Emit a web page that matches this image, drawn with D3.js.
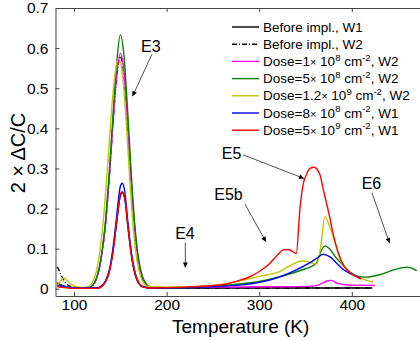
<!DOCTYPE html>
<html>
<head>
<meta charset="utf-8">
<style>
  body { margin: 0; background: #fff; }
  svg { font-family: "Liberation Sans", Arial, sans-serif; }
  .frame { fill: none; stroke: #444; stroke-width: 1; }
  .tick line { stroke: #444; }
  .line { fill: none; stroke-width: 1.4px; stroke-linejoin: round; }
</style>
</head>
<body>
<svg width="420" height="341"></svg>
<script src="https://cdn.jsdelivr.net/npm/d3@7"></script>
<script>
// [temperature K, 2*dC/C]
var beforeW1 = [[82,0.015],[86,0.01],[92,0.005],[100,0.002],[126,0.002],[130,0.006],[134,0.018],[138,0.042],[142,0.092],[146,0.165],[150,0.232],[152,0.24],[155,0.222],[158,0.158],[162,0.082],[166,0.035],[170,0.013],[175,0.004],[182,0.002],[300,0.002],[422,0.002]];
var beforeW2 = [[82,0.055],[84,0.045],[87,0.03],[91,0.015],[96,0.006],[102,0.003],[112,0.002],[118,0.005],[122,0.014],[126,0.038],[130,0.086],[134,0.162],[138,0.275],[142,0.41],[146,0.525],[150,0.58],[154,0.53],[158,0.4],[162,0.255],[166,0.135],[170,0.06],[174,0.025],[178,0.009],[184,0.003],[200,0.002],[422,0.002]];
var dose1e8 = [[82,0.012],[86,0.008],[92,0.004],[100,0.002],[112,0.002],[118,0.005],[122,0.014],[126,0.038],[130,0.085],[134,0.16],[138,0.275],[142,0.41],[146,0.53],[150,0.587],[154,0.54],[158,0.41],[162,0.26],[166,0.14],[170,0.065],[174,0.028],[178,0.01],[184,0.004],[200,0.003],[260,0.004],[320,0.005],[350,0.006],[362,0.008],[368,0.014],[374,0.02],[378,0.021],[384,0.014],[392,0.01],[405,0.009],[425,0.008]];
var dose5e8 = [[82,0.012],[86,0.008],[90,0.005],[100,0.002],[110,0.002],[118,0.005],[122,0.015],[126,0.04],[130,0.09],[134,0.17],[138,0.29],[142,0.43],[146,0.56],[150,0.633],[154,0.58],[158,0.44],[162,0.28],[166,0.15],[170,0.07],[174,0.03],[178,0.012],[182,0.005],[190,0.002],[220,0.003],[250,0.006],[270,0.01],[300,0.018],[330,0.035],[350,0.05],[356,0.055],[362,0.065],[366,0.09],[371,0.107],[376,0.1],[382,0.08],[390,0.06],[398,0.042],[405,0.032],[415,0.029],[430,0.035],[445,0.047],[460,0.054],[466,0.05],[470,0.045]];
var dose12e9 = [[82,0.008],[85,0.018],[88,0.026],[90,0.027],[93,0.02],[97,0.011],[102,0.005],[110,0.003],[116,0.006],[120,0.016],[124,0.042],[128,0.095],[132,0.18],[136,0.3],[140,0.43],[144,0.53],[148,0.575],[152,0.54],[156,0.43],[160,0.28],[164,0.15],[168,0.07],[172,0.03],[176,0.012],[182,0.005],[200,0.004],[250,0.008],[280,0.02],[300,0.031],[322,0.043],[337,0.062],[347,0.07],[355,0.066],[362,0.062],[366,0.1],[371,0.18],[376,0.155],[380,0.13],[387,0.075],[397,0.042],[410,0.026],[423,0.017]];
var dose8e8 = [[82,0.008],[90,0.005],[100,0.002],[125,0.002],[130,0.008],[134,0.02],[138,0.045],[142,0.1],[146,0.18],[150,0.255],[152,0.263],[155,0.24],[158,0.17],[162,0.09],[166,0.04],[170,0.015],[175,0.005],[182,0.002],[220,0.003],[260,0.006],[300,0.016],[320,0.028],[336,0.043],[354,0.064],[362,0.076],[369,0.086],[376,0.08],[387,0.056],[394,0.043],[401,0.035],[410,0.025]];
var dose5e9 = [[82,0.005],[90,0.003],[100,0.001],[125,0.001],[130,0.006],[134,0.018],[138,0.04],[142,0.09],[146,0.165],[150,0.235],[152,0.242],[155,0.225],[158,0.16],[162,0.085],[166,0.038],[170,0.014],[175,0.004],[182,0.002],[220,0.004],[250,0.008],[265,0.012],[280,0.022],[290,0.03],[300,0.043],[310,0.06],[320,0.085],[326,0.097],[332,0.098],[336,0.093],[340,0.088],[344,0.2],[347,0.255],[351,0.285],[355,0.3],[359,0.303],[365,0.288],[369,0.25],[372,0.22],[376,0.18],[380,0.135],[384,0.1],[387,0.08],[392,0.055],[398,0.04],[405,0.03],[410,0.025]];

var seriesData = [beforeW1, beforeW2, dose1e8, dose5e8, dose12e9, dose8e8, dose5e9];
var seriesNames = ["Before impl., W1", "Before impl., W2",
  "Dose=1\u00d7 10^{8} cm^{-2}, W2", "Dose=5\u00d7 10^{8} cm^{-2}, W2",
  "Dose=1.2\u00d7 10^{9} cm^{-2}, W2", "Dose=8\u00d7 10^{8} cm^{-2}, W1",
  "Dose=5\u00d7 10^{9} cm^{-2}, W1"];
var seriesColors = ["#000000", "#000000", "#ff00ff", "#008000", "#c4c400", "#0000ff", "#ff0000"];
var seriesDash = [null, "5,2,1,2", null, null, null, null, null];

var xTicks = [100, 200, 300, 400];
var yTicks = [0, 0.1, 0.2, 0.3, 0.4, 0.5, 0.6, 0.7];

// annotation label [T, v] and arrow from/to in data units
var notes = [
  {text: "E3", at: [183, 0.605], from: [184.2, 0.585], to: [163.2, 0.48]},
  {text: "E4", at: [219.8, 0.139], from: [220.2, 0.115], to: [220.2, 0.053]},
  {text: "E5b", at: [266.8, 0.235], from: [284.6, 0.211], to: [307.3, 0.117]},
  {text: "E5", at: [270.1, 0.337], from: [282.5, 0.334], to: [348.4, 0.275]},
  {text: "E6", at: [421.2, 0.264], from: [421.8, 0.239], to: [440.7, 0.114]}
];

var svg = d3.select("svg");
var pl = 55.5, pt = 8, pb = 296, pr = 425.9;

var x = d3.scaleLinear().domain([80, 480]).range([pl, pr]);
var y = d3.scaleLinear().domain([-0.018, 0.7]).range([pb, pt]);

svg.append("clipPath").attr("id", "clip")
  .append("rect").attr("x", pl).attr("y", pt)
  .attr("width", pr - pl).attr("height", pb - pt);

// ticks inside the box, MATLAB style
svg.append("g").attr("transform", "translate(0," + pb + ")")
  .call(d3.axisBottom(x).tickValues(xTicks).tickSizeInner(-4).tickSizeOuter(0).tickPadding(3))
  .call(function (g) {
    g.select(".domain").remove();
    g.selectAll("text").attr("font-size", 15.5).attr("fill", "#000").attr("font-family", null);
  });
svg.append("g").attr("transform", "translate(0," + pt + ")")
  .call(d3.axisTop(x).tickValues(xTicks).tickSizeInner(-4).tickSizeOuter(0).tickFormat(""))
  .call(function (g) { g.select(".domain").remove(); });
svg.append("g").attr("transform", "translate(" + pl + ",0)")
  .call(d3.axisLeft(y).tickValues(yTicks).tickSizeInner(-4).tickSizeOuter(0).tickPadding(7)
    .tickFormat(function (d) { return d === 0 ? "0" : d3.format(".1f")(d); }))
  .call(function (g) {
    g.select(".domain").remove();
    g.selectAll("text").attr("font-size", 15.5).attr("fill", "#000").attr("font-family", null);
  });

svg.append("path").attr("class", "frame")
  .attr("d", "M" + (pr + 5) + "," + (pt + 0.5) + "H" + (pl + 0.5) + "V" + (pb + 0.5) + "H" + (pr + 5));

var line = d3.line()
  .curve(d3.curveMonotoneX)
  .x(function (d) { return x(d[0]); })
  .y(function (d) { return y(d[1]); });

svg.append("g").attr("clip-path", "url(#clip)")
  .selectAll("path").data(seriesData).enter().append("path")
  .attr("class", "line")
  .attr("d", line)
  .attr("stroke", function (d, i) { return seriesColors[i]; })
  .attr("stroke-dasharray", function (d, i) { return seriesDash[i]; });

// annotations
svg.append("defs").append("marker")
  .attr("id", "arrow").attr("viewBox", "0 0 10 10")
  .attr("refX", 10).attr("refY", 5)
  .attr("markerWidth", 8).attr("markerHeight", 5)
  .attr("markerUnits", "userSpaceOnUse")
  .attr("orient", "auto")
  .append("path").attr("d", "M0,0L10,5L0,10Z").attr("fill", "#000");

var ann = svg.append("g");
ann.selectAll("line").data(notes).enter().append("line")
  .attr("x1", function (d) { return x(d.from[0]); })
  .attr("y1", function (d) { return y(d.from[1]); })
  .attr("x2", function (d) { return x(d.to[0]); })
  .attr("y2", function (d) { return y(d.to[1]); })
  .attr("stroke", "#222").attr("stroke-width", 0.8)
  .attr("marker-end", "url(#arrow)");
ann.selectAll("text").data(notes).enter().append("text")
  .attr("x", function (d) { return x(d.at[0]); })
  .attr("y", function (d) { return y(d.at[1]); })
  .attr("text-anchor", "middle").attr("dy", "0.36em")
  .attr("font-size", 16)
  .text(function (d) { return d.text; });

// legend
var legend = svg.append("g").attr("transform", "translate(232,27)");
var rows = legend.selectAll("g").data(seriesNames).enter().append("g")
  .attr("transform", function (d, i) { return "translate(0," + (i * 17.2) + ")"; });
rows.append("line")
  .attr("x1", 0).attr("x2", 27).attr("y1", 0).attr("y2", 0)
  .attr("stroke", function (d, i) { return seriesColors[i]; })
  .attr("stroke-width", 1.4)
  .attr("stroke-dasharray", function (d, i) { return seriesDash[i]; });
rows.append("text")
  .attr("x", 31).attr("y", 4.6).attr("font-size", 13.5)
  .each(function (d) {
    var t = d3.select(this), shift = 0;
    d.split(/(\^\{[^}]*\})/).forEach(function (part) {
      if (!part) return;
      if (part.charAt(0) === "^") {
        t.append("tspan").attr("dy", -5.5).attr("font-size", 9.5).text(part.slice(2, -1));
        shift = 5.5;
      } else {
        part.split("\u00d7").forEach(function (s, k) {
          if (k > 0) t.append("tspan").attr("font-size", 11).text("\u00d7");
          if (s) {
            t.append("tspan").attr("dy", shift || null).text(s);
            shift = 0;
          }
        });
      }
    });
  });

// axis labels
svg.append("text")
  .attr("x", (pl + pr) / 2).attr("y", 333)
  .attr("text-anchor", "middle").attr("font-size", 19)
  .text("Temperature (K)");
svg.append("text")
  .attr("transform", "translate(25,153) rotate(-90)")
  .attr("text-anchor", "middle").attr("font-size", 20)
  .text("2 \u00d7 \u0394C/C");
</script>
</body>
</html>
